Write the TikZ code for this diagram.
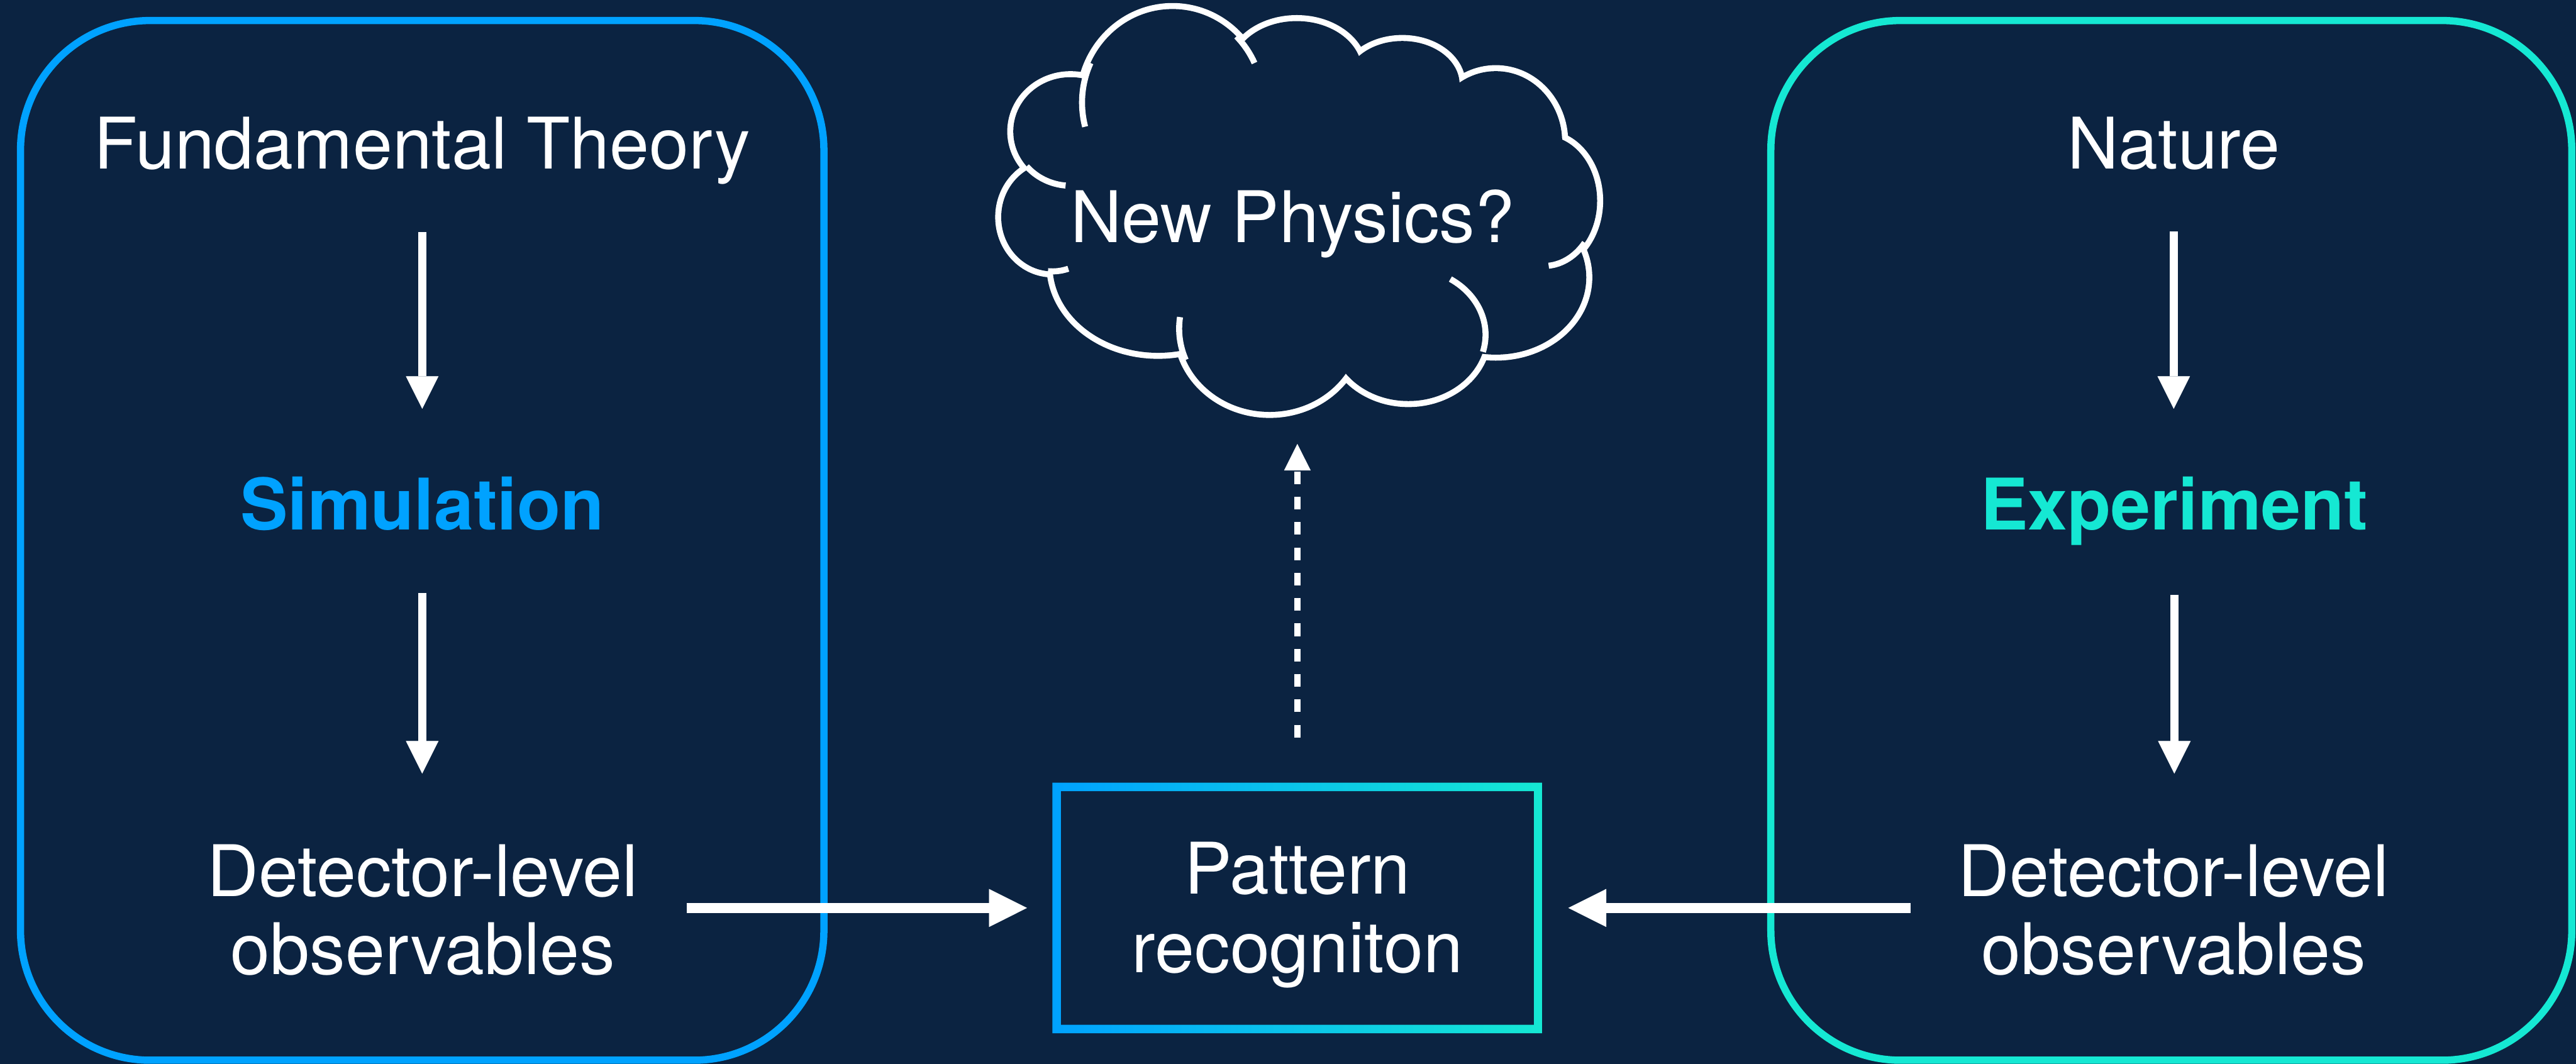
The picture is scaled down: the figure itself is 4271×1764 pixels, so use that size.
\documentclass[tikz,border=0pt]{standalone}
\usepackage{fontspec}
\setmainfont{TeX Gyre Heros}
\usetikzlibrary{arrows.meta}
\definecolor{bg}{HTML}{0B2341}
\definecolor{cblue}{HTML}{00A2FF}
\definecolor{cteal}{HTML}{15E8D3}
\begin{document}
\begin{tikzpicture}[x=1pt,y=-1pt,
  txt/.style={text=white, inner sep=0pt, font=\fontsize{118}{130}\selectfont, align=center},
  boldtxt/.style={inner sep=0pt, font=\fontsize{118}{130}\selectfont\bfseries},
  panel/.style={line width=12pt, rounded corners=215pt},
  varrow/.style={draw=white, line width=13pt, -{Triangle[length=54pt,width=54pt,line width=0.5pt]}},
  harrow/.style={draw=white, line width=16pt, -{Triangle[length=63pt,width=63pt,line width=0.5pt]}},
  darrow/.style={draw=white, line width=11pt, dash pattern=on 21pt off 21pt, -{Triangle[length=44pt,width=44pt,line width=0.5pt]}},
  cloudline/.style={draw=white, line width=10pt}
]
\fill[bg] (0,0) rectangle (4271,1764);
\useasboundingbox (0,0) rectangle (4271,1764);

% panels
\draw[panel, cblue] (34,34) rectangle (1366,1758);
\draw[panel, cteal] (2936,34) rectangle (4264,1758);

% cloud (union of puffs)
\def\puffs{(1944,170) ellipse [x radius=150, y radius=155]
  (2150,118) ellipse [x radius=108, y radius=83]
  (2325,140) ellipse [x radius=95, y radius=72]
  (2480,235) ellipse [x radius=110, y radius=117]
  (2560,333) ellipse [x radius=88, y radius=108]
  (2480,460) ellipse [x radius=150, y radius=128]
  (2335,555) ellipse [x radius=128, y radius=110]
  (2105,545) ellipse [x radius=150, y radius=138]
  (1920,440) ellipse [x radius=175, y radius=145]
  (1745,360) ellipse [x radius=85, y radius=90]
  (1775,218) ellipse [x radius=95, y radius=90]}
\draw[white, line width=20pt] \puffs;
\fill[bg] \puffs (2150,360) ellipse [x radius=400, y radius=200];
% interior overshoots
\draw[cloudline] ([shift={(-57:128 and 110)}]2335,555) arc[start angle=-57, end angle=15, x radius=128, y radius=110];
\draw[cloudline] ([shift={(165:150 and 155)}]1944,170) arc[start angle=165, end angle=205, x radius=150, y radius=155];
\draw[cloudline] ([shift={(-45:150 and 155)}]1944,170) arc[start angle=-45, end angle=-25, x radius=150, y radius=155];
\draw[cloudline] ([shift={(40:88 and 108)}]2560,333) arc[start angle=40, end angle=85, x radius=88, y radius=108];
\draw[cloudline] ([shift={(95:95 and 90)}]1775,218) arc[start angle=95, end angle=140, x radius=95, y radius=90];
\draw[cloudline] ([shift={(158:150 and 138)}]2105,545) arc[start angle=158, end angle=188, x radius=150, y radius=138];
\draw[cloudline] ([shift={(72:85 and 90)}]1745,360) arc[start angle=72, end angle=95, x radius=85, y radius=90];

% text nodes
\node[txt, anchor=base] (ft) at (700,280) {Fundamental Theory};
\node[boldtxt, text=cblue, anchor=base] (sim) at (700,879) {Simulation};
\node[txt, anchor=base] (det1) at (701,1616) {Detector-level\\observables};

\node[txt, anchor=base] (nat) at (3604,280) {Nature};
\node[boldtxt, text=cteal, anchor=base] (exp) at (3605,879) {Experiment};
\node[txt, anchor=base] (det2) at (3604,1616) {Detector-level\\observables};

\node[txt, anchor=base] (np) at (2143,402) {New Physics?};
\coordinate (cloudb) at (2151,683);

\node[txt, minimum width=798pt, minimum height=401pt] (pat) at (2151,1505.5) {\rule{0pt}{110pt}Pattern\\recogniton};
\shade[even odd rule, left color=cblue, right color=cteal]
  ([xshift=-7pt,yshift=7pt]pat.north west) rectangle ([xshift=7pt,yshift=-7pt]pat.south east)
  ([xshift=7pt,yshift=-7pt]pat.north west) rectangle ([xshift=-7pt,yshift=7pt]pat.south east);

% connectors
\draw[varrow, shorten <=79pt, shorten >=113pt] (ft.south) -- (ft.south |- sim.north);
\draw[varrow, shorten <=103pt, shorten >=117pt] (sim.south) -- (sim.south |- det1.north);
\draw[varrow, shorten <=102pt, shorten >=113pt] (nat.south) -- (nat.south |- exp.north);
\draw[varrow, shorten <=81pt, shorten >=117pt] (exp.south) -- (exp.south |- det2.north);

\draw[harrow, shorten <=80pt, shorten >=49pt] (det1.east |- pat.west) -- (pat.west);
\draw[harrow, shorten <=79pt, shorten >=50pt] (det2.west |- pat.east) -- (pat.east);

\draw[darrow, shorten <=82pt, shorten >=53pt] (pat.north) -- (cloudb);
\end{tikzpicture}
\end{document}
